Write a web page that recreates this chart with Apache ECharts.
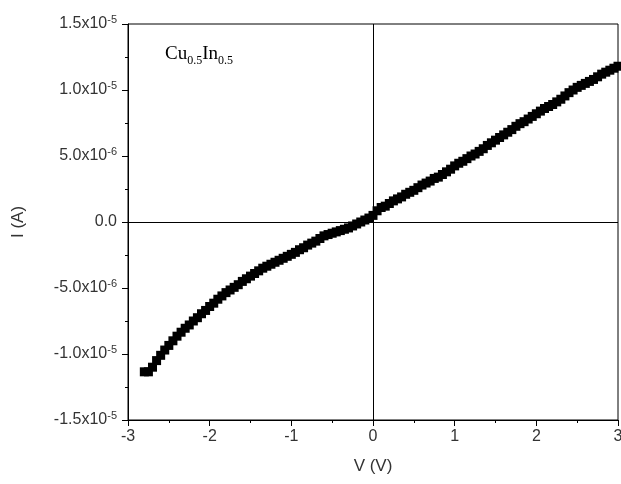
<!DOCTYPE html>
<html>
<head>
<meta charset="utf-8">
<script src="https://cdn.jsdelivr.net/npm/echarts@6/dist/echarts.min.js"></script>
<style>
  html, body { margin: 0; padding: 0; background: #fff; overflow: hidden; }
  #chart { width: 621px; height: 484px; }
</style>
</head>
<body>
<div id="chart"></div>
<script>
// I–V sweep of the Cu0.5In0.5 sample, 50 mV steps
const voltage = [
  -2.80, -2.75, -2.70, -2.65, -2.60, -2.55, -2.50, -2.45, -2.40, -2.35,
  -2.30, -2.25, -2.20, -2.15, -2.10, -2.05, -2.00, -1.95, -1.90, -1.85,
  -1.80, -1.75, -1.70, -1.65, -1.60, -1.55, -1.50, -1.45, -1.40, -1.35,
  -1.30, -1.25, -1.20, -1.15, -1.10, -1.05, -1.00, -0.95, -0.90, -0.85,
  -0.80, -0.75, -0.70, -0.65, -0.60, -0.55, -0.50, -0.45, -0.40, -0.35,
  -0.30, -0.25, -0.20, -0.15, -0.10, -0.05, 0.00, 0.05, 0.10, 0.15,
  0.20, 0.25, 0.30, 0.35, 0.40, 0.45, 0.50, 0.55, 0.60, 0.65,
  0.70, 0.75, 0.80, 0.85, 0.90, 0.95, 1.00, 1.05, 1.10, 1.15,
  1.20, 1.25, 1.30, 1.35, 1.40, 1.45, 1.50, 1.55, 1.60, 1.65,
  1.70, 1.75, 1.80, 1.85, 1.90, 1.95, 2.00, 2.05, 2.10, 2.15,
  2.20, 2.25, 2.30, 2.35, 2.40, 2.45, 2.50, 2.55, 2.60, 2.65,
  2.70, 2.75, 2.80, 2.85, 2.90, 2.95, 3.00
];
// current in microamps
const currentMicroA = [
  -11.35, -11.35, -11.0, -10.5, -10.1, -9.7, -9.35, -9.0, -8.65, -8.35,
  -8.05, -7.8, -7.5, -7.25, -6.95, -6.7, -6.4, -6.15, -5.85, -5.6,
  -5.35, -5.15, -4.95, -4.75, -4.5, -4.3, -4.1, -3.9, -3.7, -3.5,
  -3.35, -3.2, -3.05, -2.9, -2.75, -2.6, -2.45, -2.3, -2.1, -1.95,
  -1.75, -1.6, -1.45, -1.25, -1.05, -0.95, -0.85, -0.75, -0.65, -0.55,
  -0.45, -0.3, -0.15, 0.0, 0.15, 0.3, 0.5, 0.85, 1.1, 1.2,
  1.4, 1.6, 1.75, 1.9, 2.1, 2.25, 2.4, 2.6, 2.8, 2.95,
  3.1, 3.3, 3.4, 3.6, 3.8, 4.0, 4.25, 4.45, 4.6, 4.8,
  5.0, 5.15, 5.35, 5.55, 5.8, 6.0, 6.2, 6.4, 6.6, 6.8,
  7.0, 7.25, 7.45, 7.6, 7.8, 8.0, 8.2, 8.4, 8.6, 8.75,
  8.9, 9.1, 9.3, 9.55, 9.8, 10.0, 10.2, 10.35, 10.5, 10.65,
  10.8, 11.0, 11.2, 11.35, 11.5, 11.65, 11.8
];

const yTickValues = [-1.5e-5, -1.0e-5, -5e-6, 0, 5e-6, 1.0e-5, 1.5e-5];
const yTickMantissa = ['-1.5x10', '-1.0x10', '-5.0x10', '0.0', '5.0x10', '1.0x10', '1.5x10'];
const yTickExponent = ['-5', '-5', '-6', '', '-6', '-5', '-5'];
const xTickLabels = ['-3', '-2', '-1', '0', '1', '2', '3'];

const points = voltage.map((v, i) => [v, currentMicroA[i] * 1e-6]);

const chart = echarts.init(document.getElementById('chart'), null, { renderer: 'canvas' });

function yLabel(value) {
  let idx = -1;
  yTickValues.forEach((t, i) => { if (Math.abs(t - value) < 1e-9) idx = i; });
  if (idx < 0) return '';
  if (!yTickExponent[idx]) return '{m|' + yTickMantissa[idx] + '}';
  return '{m|' + yTickMantissa[idx] + '}{s|' + yTickExponent[idx] + '}';
}

const labelFont = 'Liberation Sans';
const textColor = '#333';

chart.setOption({
  animation: false,
  backgroundColor: '#fff',
  grid: {
    left: 128, top: 24, right: 3, bottom: 64,
    outerBoundsMode: 'none',
    show: true, borderColor: '#000', borderWidth: 1, backgroundColor: 'transparent'
  },
  xAxis: {
    type: 'value', min: -3, max: 3, interval: 1,
    name: 'V (V)', nameLocation: 'middle', nameGap: 38,
    nameTextStyle: { fontFamily: labelFont, fontSize: 17, color: textColor },
    axisLine: { onZero: false, lineStyle: { color: '#000', width: 1 } },
    axisTick: { show: true, length: 6, lineStyle: { color: '#000' } },
    minorTick: { show: true, splitNumber: 2, length: 3, lineStyle: { color: '#000' } },
    splitLine: { show: false },
    axisLabel: {
      fontFamily: labelFont, fontSize: 16, color: textColor, margin: 9,
      formatter: v => xTickLabels[Math.round(v) + 3]
    }
  },
  yAxis: {
    type: 'value', min: -1.5e-5, max: 1.5e-5, interval: 5e-6,
    name: 'I (A)', nameLocation: 'middle', nameGap: 101, nameRotate: 90,
    nameTextStyle: { fontFamily: labelFont, fontSize: 17, color: textColor },
    axisLine: { onZero: false, lineStyle: { color: '#000', width: 1 } },
    axisTick: { show: true, length: 6, lineStyle: { color: '#000' } },
    minorTick: { show: true, splitNumber: 2, length: 3, lineStyle: { color: '#000' } },
    splitLine: { show: false },
    axisLabel: {
      margin: 11,
      formatter: yLabel,
      rich: {
        m: { fontFamily: labelFont, fontSize: 16, color: textColor, lineHeight: 20 },
        s: { fontFamily: labelFont, fontSize: 11, color: textColor, lineHeight: 11, verticalAlign: 'top' }
      }
    }
  },
  graphic: [{
    type: 'text',
    left: 165, top: 45,
    style: {
      text: '{e|Cu}{d|0.5}{e|In}{d|0.5}',
      rich: {
        e: { fontFamily: 'Liberation Serif', fontSize: 19, color: '#000', lineHeight: 24 },
        d: { fontFamily: 'Liberation Serif', fontSize: 12, color: '#000', lineHeight: 8, verticalAlign: 'bottom' }
      }
    }
  }],
  series: [{
    type: 'scatter',
    data: points,
    symbol: 'rect',
    symbolSize: 9,
    itemStyle: { color: '#000', opacity: 1 },
    silent: true,
    markLine: {
      silent: true,
      symbol: ['none', 'none'],
      label: { show: false },
      lineStyle: { color: '#000', width: 1, type: 'solid' },
      data: [{ xAxis: 0 }, { yAxis: 0 }]
    }
  }]
});
</script>
</body>
</html>
